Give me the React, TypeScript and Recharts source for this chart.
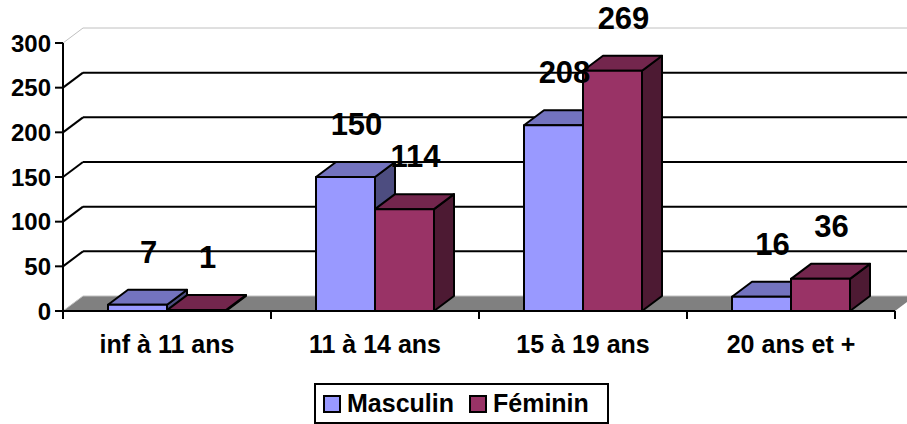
import React from "react";
import {
  BarChart,
  Bar,
  XAxis,
  YAxis,
  CartesianGrid,
  Legend,
  LabelList,
} from "recharts";

const categories = ["inf à 11 ans", "11 à 14 ans", "15 à 19 ans", "20 ans et +"];
const masculin = [7, 150, 208, 16];
const feminin = [1, 114, 269, 36];
const yTicks = [0, 50, 100, 150, 200, 250, 300];

const data = categories.map((name, i) => ({
  name,
  masculin: masculin[i],
  feminin: feminin[i],
}));

const W = 907;
const H = 424;
const LEFT = 63;
const TOP = 43;
const RIGHT = 895;
const BOTTOM = 311;
const BAND = (RIGHT - LEFT) / categories.length;

// 3D depth offset
const DX = 20;
const DY = -15;

const FONT = "'Liberation Sans', Arial, sans-serif";

const colors = {
  masculin: { front: "#9999FF", top: "#7373BF", side: "#4D4D80" },
  feminin: { front: "#993366", top: "#73264D", side: "#4D1A33" },
};

function makeBox(c: { front: string; top: string; side: string }) {
  return (props: any) => {
    const { x, y, width, height } = props;
    const h = Math.max(height, 0);
    const top = `${x},${y} ${x + DX},${y + DY} ${x + width + DX},${y + DY} ${x + width},${y}`;
    const side = `${x + width},${y} ${x + width + DX},${y + DY} ${x + width + DX},${y + h + DY} ${x + width},${y + h}`;
    return (
      <g stroke="#000" strokeWidth={2} strokeLinejoin="round">
        <polygon points={side} fill={c.side} />
        <polygon points={top} fill={c.top} />
        <rect x={x} y={y} width={width} height={h} fill={c.front} />
      </g>
    );
  };
}

const renderLabel = (props: any) => {
  const { x, y, width, value } = props;
  return (
    <text
      x={x + width / 2 + 11}
      y={y - 42}
      textAnchor="middle"
      fontSize={31}
      fontWeight="bold"
      fontFamily={FONT}
      fill="#000"
    >
      {value}
    </text>
  );
};

const gridLine = (props: any) => {
  const { x1, x2, y1, index } = props;
  const y = y1;
  if (Math.abs(y - BOTTOM) < 1) {
    const floor = `${x1},${y} ${x1 + DX},${y + DY} ${x2 + DX},${y + DY} ${x2},${y}`;
    return (
      <g key={`h-${index}`}>
        <polygon points={floor} fill="#808080" />
        <line x1={x1} y1={y} x2={x1 + DX} y2={y + DY} stroke="#C0C0C0" strokeWidth={1} />
        <line x1={x1 + DX} y1={y + DY} x2={x2 + DX} y2={y + DY} stroke="#C0C0C0" strokeWidth={1} />
      </g>
    );
  }
  const light = Math.abs(y - TOP) < 1;
  const stroke = light ? "#C0C0C0" : "#000";
  const sw = light ? 1 : 2;
  return (
    <g key={`h-${index}`}>
      <line x1={x1} y1={y} x2={x1 + DX} y2={y + DY} stroke={stroke} strokeWidth={sw} />
      <line x1={x1 + DX} y1={y + DY} x2={x2 + DX} y2={y + DY} stroke={stroke} strokeWidth={sw} />
    </g>
  );
};

const CategoryTick = (props: any) => {
  const { x, payload, index } = props;
  const half = BAND / 2;
  const last = index === categories.length - 1;
  return (
    <g>
      <line x1={x - half} y1={BOTTOM} x2={x - half} y2={BOTTOM + 8} stroke="#000" strokeWidth={2} />
      {last && (
        <line x1={x + half} y1={BOTTOM} x2={x + half} y2={BOTTOM + 8} stroke="#000" strokeWidth={2} />
      )}
      <text
        x={x}
        y={BOTTOM + 42}
        textAnchor="middle"
        fontSize={25}
        fontWeight="bold"
        fontFamily={FONT}
        fill="#000"
      >
        {payload.value}
      </text>
    </g>
  );
};

const LegendBox = () => {
  const item = (label: string, color: string) => (
    <div style={{ display: "flex", alignItems: "center" }}>
      <div
        style={{
          width: 18,
          height: 18,
          boxSizing: "border-box",
          border: "2px solid #000",
          background: color,
          marginRight: 6,
        }}
      />
      <span>{label}</span>
    </div>
  );
  return (
    <div
      style={{
        boxSizing: "border-box",
        width: 295,
        height: 41,
        border: "2px solid #000",
        background: "#fff",
        display: "flex",
        alignItems: "center",
        gap: 15,
        paddingLeft: 7,
        fontFamily: FONT,
        fontWeight: "bold",
        fontSize: 25,
        color: "#000",
      }}
    >
      {item("Masculin", colors.masculin.front)}
      {item("Féminin", colors.feminin.front)}
    </div>
  );
};

export default function App() {
  return (
    <div style={{ position: "absolute", left: 0, top: 0, width: W, height: H, background: "#fff" }}>
      <BarChart
        width={W}
        height={H}
        data={data}
        margin={{ top: TOP, right: W - RIGHT, bottom: 73, left: 0 }}
        barSize={59}
        barGap={0}
        style={{ fontFamily: FONT }}
      >
        <CartesianGrid horizontal={gridLine} vertical={false} />
        <XAxis
          dataKey="name"
          height={40}
          axisLine={{ stroke: "#000", strokeWidth: 2 }}
          tickLine={false}
          tick={<CategoryTick />}
          interval={0}
        />
        <YAxis
          width={LEFT}
          domain={[0, 300]}
          ticks={yTicks}
          interval={0}
          axisLine={{ stroke: "#000", strokeWidth: 2 }}
          tickLine={{ stroke: "#000", strokeWidth: 2 }}
          tickSize={8}
          tickMargin={4}
          tick={{ fill: "#000", fontSize: 24, fontWeight: "bold", fontFamily: FONT }}
        />
        <Legend
          layout="horizontal"
          verticalAlign="middle"
          align="center"
          wrapperStyle={{ left: 314, top: 383, width: 295, height: 41 }}
          content={() => <LegendBox />}
        />
        <Bar
          dataKey="masculin"
          name="Masculin"
          fill={colors.masculin.front}
          shape={makeBox(colors.masculin)}
          isAnimationActive={false}
        >
          <LabelList dataKey="masculin" content={renderLabel} />
        </Bar>
        <Bar
          dataKey="feminin"
          name="Féminin"
          fill={colors.feminin.front}
          shape={makeBox(colors.feminin)}
          isAnimationActive={false}
        >
          <LabelList dataKey="feminin" content={renderLabel} />
        </Bar>
      </BarChart>
    </div>
  );
}
